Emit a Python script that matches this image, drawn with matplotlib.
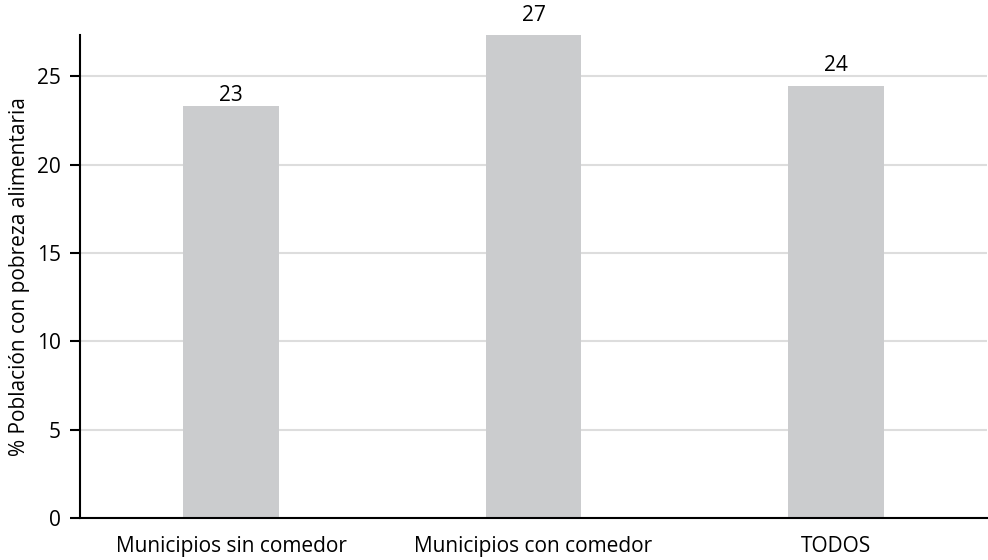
import matplotlib
matplotlib.use("Agg")
import matplotlib.pyplot as plt

categories = ["Municipios sin comedor", "Municipios con comedor", "TODOS"]
values = [23.3, 27.35, 24.45]
yticks = [0, 5, 10, 15, 20, 25]

# vertical gap (points) between each bar top and its value label
label_gaps = [0.5, 6.5, 7]

plt.rcParams["font.family"] = ["Open Sans", "DejaVu Sans"]
plt.rcParams["font.weight"] = 500

fig = plt.figure(figsize=(9.88, 5.6), dpi=100)
ax = fig.add_axes([0.081, 0.0745, 0.918, 0.8635])

x = list(range(len(categories)))
ax.bar(x, values, width=0.317, color="#cbccce", zorder=2)

for xi, v, gap in zip(x, values, label_gaps):
    ax.annotate(f"{v:.0f}", xy=(xi, v), xytext=(0, gap),
                textcoords="offset points", ha="center", va="bottom",
                fontsize=15, color="#000000", annotation_clip=False)

ax.set_xlim(-0.5, 2.5)
ax.set_ylim(0, max(values))
ax.set_yticks(yticks)
ax.set_xticks(x)
ax.set_xticklabels(categories)
ax.yaxis.grid(True, color="#dddddd", linewidth=1.5, zorder=0)
ax.set_axisbelow(True)

for side in ("top", "right"):
    ax.spines[side].set_visible(False)
for side in ("left", "bottom"):
    ax.spines[side].set_linewidth(1.5)
    ax.spines[side].set_color("#000000")

ax.tick_params(axis="y", length=7, width=1.5, labelsize=15, pad=7,
               labelcolor="#000000")
ax.tick_params(axis="x", length=0, labelsize=15, pad=13, labelcolor="#000000")
ax.set_ylabel("% Población con pobreza alimentaria", fontsize=15,
              labelpad=5, color="#000000")

fig.savefig("out.png", dpi=100)
